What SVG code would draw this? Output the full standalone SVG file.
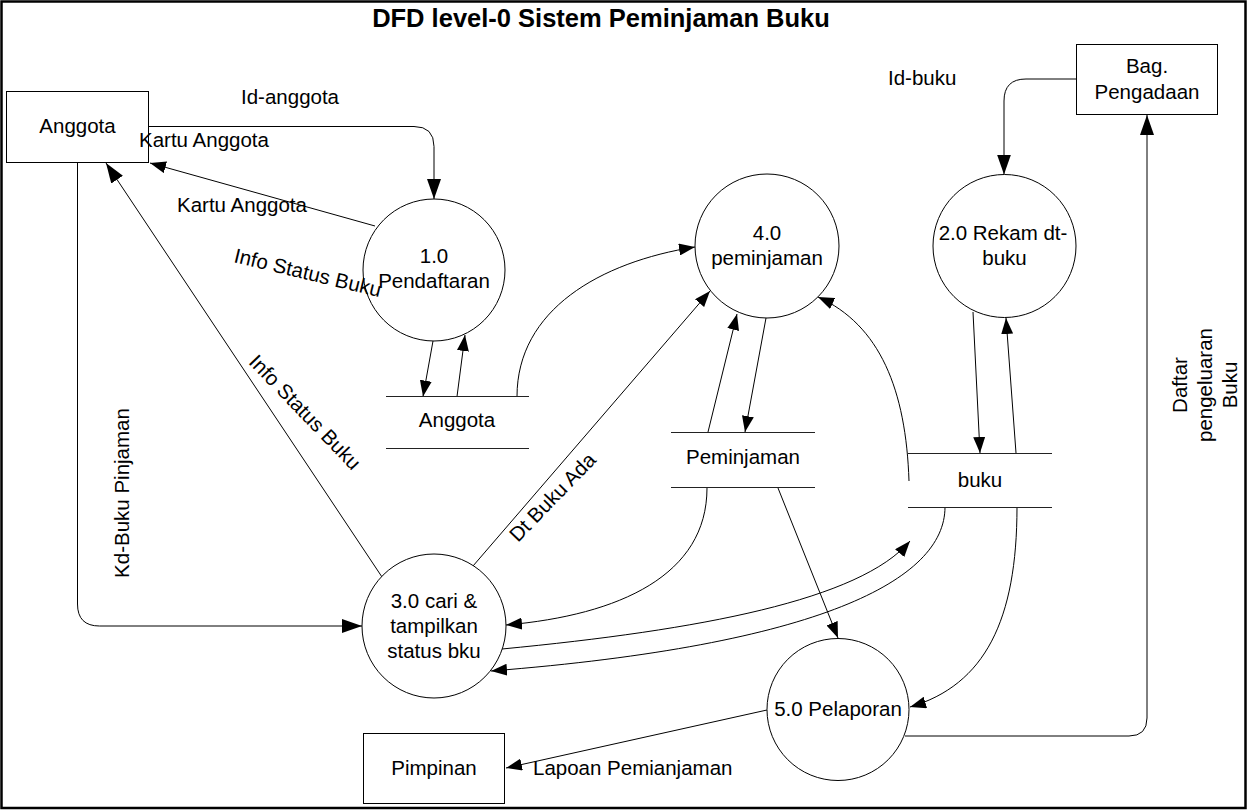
<svg xmlns="http://www.w3.org/2000/svg" width="1249" height="811" viewBox="0 0 1249 811">
<style>
text{font-family:"Liberation Sans",Arial,sans-serif;font-size:20.5px;fill:#000}
.t{font-size:25.5px;font-weight:bold}
.m{text-anchor:middle}
.n{fill:#fff;stroke:#000;stroke-width:1}
.st{stroke:#222;stroke-width:1.2;fill:none}
.c{fill:none;stroke:#000;stroke-width:1}
.big{marker-end:url(#ab)}
.sm{marker-end:url(#as)}
</style>
<defs>
<marker id="ab" markerUnits="userSpaceOnUse" markerWidth="20" markerHeight="14" refX="20" refY="7" orient="auto" viewBox="0 0 20 14"><path d="M0,0 L20,7 L0,14 z" fill="#000"/></marker>
<marker id="as" markerUnits="userSpaceOnUse" markerWidth="16" markerHeight="12" refX="16" refY="6" orient="auto" viewBox="0 0 16 12"><path d="M0,0 L16,6 L0,12 z" fill="#000"/></marker>
</defs>
<rect x="0" y="0" width="1249" height="811" fill="#fff"/>
<rect x="1.5" y="1.5" width="1244" height="806.5" fill="none" stroke="#000" stroke-width="2.5"/>
<text class="t m" x="601" y="27">DFD level-0 Sistem Peminjaman Buku</text>

<g id="connectors">
<path id="e-idanggota" class="c big" d="M149,126.5 H414 Q434,126.5 434,146.5 V199"/>
<path id="e-kartu" class="c sm" d="M375,226 L150,163"/>
<path id="e-info" class="c big" d="M382,577 L106,163"/>
<path id="e-kdbuku" class="c big" d="M77.5,163 V604 Q77.5,626 99.5,626 H362"/>
<path id="e-1-dsa" class="c sm" d="M433,341 L423,396.5"/>
<path id="e-dsa-1" class="c sm" d="M457,396.5 L465,335"/>
<path id="e-dsa-4" class="c sm" d="M517,396.5 C517,310 600,262 695,247"/>
<path id="e-dtbuku" class="c sm" d="M473,566 L710,291"/>
<path id="e-dsp-4" class="c sm" d="M708,432 L737,314"/>
<path id="e-4-dsp" class="c sm" d="M766,318 L745,432"/>
<path id="e-dsp-3" class="c sm" d="M707,488 C707,575 620,615 506,625"/>
<path id="e-dsp-5" class="c sm" d="M778,488 L838,638"/>
<path id="e-idbuku" class="c big" d="M1076,79 H1026 Q1004,79 1004,101 V174.5"/>
<path id="e-2-dsb" class="c sm" d="M973,312 L980,453"/>
<path id="e-dsb-2" class="c sm" d="M1016,453 L1006,318"/>
<path id="e-dsb-4" class="c sm" d="M909,481 C906,390 880,325 818,297"/>
<path id="e-3-dsb" class="c sm" d="M502,649 C700,630 860,600 910,541"/>
<path id="e-dsb-3" class="c sm" d="M945,507 C945,580 820,645 491,671"/>
<path id="e-dsb-5" class="c sm" d="M1017,507 C1017,620 985,685 910,707"/>
<path id="e-lapoan" class="c sm" d="M767,710 L506,768"/>
<path id="e-daftar" class="c big" d="M905,736 H1129 Q1147,736 1147,718 V115"/>
</g>

<g id="ext-anggota">
<rect class="n" x="6.5" y="91.5" width="142" height="71"/>
<text class="m" x="77.5" y="133">Anggota</text>
</g>
<g id="ext-pengadaan">
<rect class="n" x="1076.5" y="44.5" width="141" height="70"/>
<text class="m" x="1147" y="73">Bag.</text>
<text class="m" x="1147" y="99">Pengadaan</text>
</g>
<g id="ext-pimpinan">
<rect class="n" x="363.5" y="733.5" width="141" height="70"/>
<text class="m" x="434" y="775">Pimpinan</text>
</g>

<g id="p1">
<circle class="n" cx="434" cy="270" r="71"/>
<text class="m" x="434" y="263">1.0</text>
<text class="m" x="434" y="288">Pendaftaran</text>
</g>
<g id="p4">
<circle class="n" cx="767" cy="246" r="72"/>
<text class="m" x="767" y="240">4.0</text>
<text class="m" x="767" y="265">peminjaman</text>
</g>
<g id="p2">
<circle class="n" cx="1004.5" cy="246" r="71.5"/>
<text class="m" x="1003" y="240">2.0 Rekam dt-</text>
<text class="m" x="1004.5" y="265">buku</text>
</g>
<g id="p3">
<circle class="n" cx="434" cy="626" r="72"/>
<text class="m" x="434" y="608">3.0 cari &amp;</text>
<text class="m" x="434" y="633">tampilkan</text>
<text class="m" x="434" y="658">status bku</text>
</g>
<g id="p5">
<circle class="n" cx="838" cy="709.5" r="71"/>
<text class="m" x="838" y="716">5.0 Pelaporan</text>
</g>

<g id="ds-anggota">
<path class="st" d="M386,396.5 H529 M386,448.5 H529"/>
<text class="m" x="457" y="427">Anggota</text>
</g>
<g id="ds-peminjaman">
<path class="st" d="M671,432.5 H815 M671,487.5 H815"/>
<text class="m" x="743" y="464">Peminjaman</text>
</g>
<g id="ds-buku">
<path class="st" d="M908,453.5 H1052 M908,507.5 H1052"/>
<text class="m" x="980" y="487">buku</text>
</g>

<g id="connector-labels">
<text x="241" y="104">Id-anggota</text>
<text x="139" y="147">Kartu Anggota</text>
<text x="177" y="212">Kartu Anggota</text>
<text x="233" y="262" transform="rotate(13.5 233 262)">Info Status Buku</text>
<text class="m" x="300" y="417" transform="rotate(46 300 417)">Info Status Buku</text>
<text class="m" x="129" y="493" transform="rotate(-90 129 493)">Kd-Buku Pinjaman</text>
<text class="m" x="557.5" y="502" transform="rotate(-46 557.5 502)">Dt Buku Ada</text>
<text x="888" y="85">Id-buku</text>
<text class="m" transform="translate(1187 385) rotate(-90)"><tspan x="0" y="0">Daftar</tspan><tspan x="0" y="25">pengeluaran</tspan><tspan x="0" y="50">Buku</tspan></text>
<text x="533" y="775">Lapoan Pemianjaman</text>
</g>
</svg>
